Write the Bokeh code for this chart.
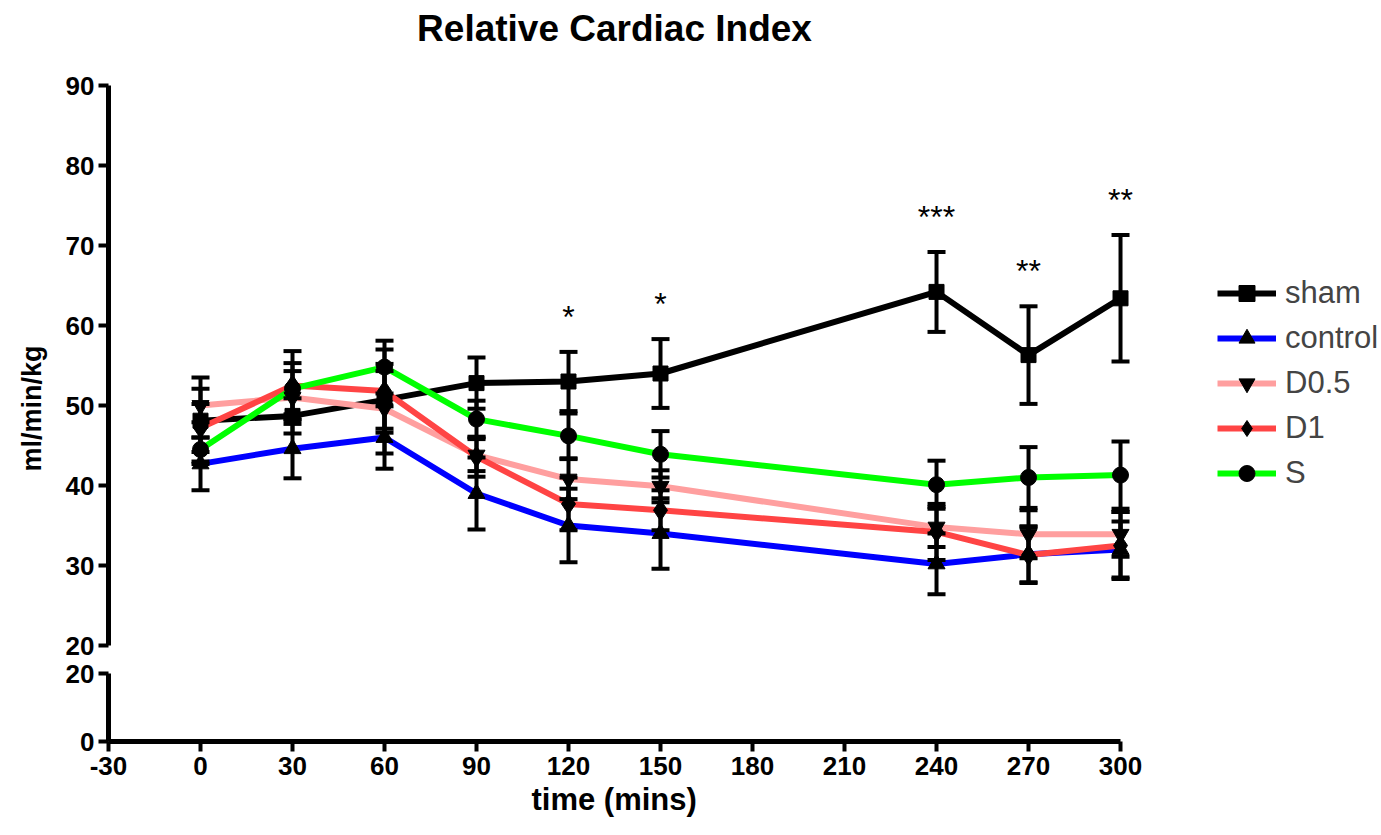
import math
from bokeh.plotting import figure
from bokeh.models import Range1d, FixedTicker, Legend, LegendItem, Title
from bokeh.layouts import column, row
from bokeh.embed import file_html
from bokeh.resources import INLINE
from bokeh.core.properties import value

# ---------------- data ----------------
times = [0, 30, 60, 90, 120, 150, 240, 270, 300]

sham = [48.1, 48.7, 50.7, 52.8, 53.0, 54.0, 64.2, 56.3, 63.4]
sham_err = [5.4, 2.2, 3.6, 3.2, 3.7, 4.3, 5.0, 6.1, 7.9]

control = [42.7, 44.6, 46.0, 39.0, 35.0, 34.0, 30.2, 31.4, 32.0]
control_err = [3.3, 3.7, 3.9, 4.5, 4.6, 4.4, 3.8, 3.5, 3.5]

d05 = [50.0, 51.0, 49.6, 43.8, 40.8, 39.9, 34.8, 33.9, 33.9]
d05_err = [2.1, 3.3, 5.6, 2.0, 2.5, 2.0, 2.5, 3.0, 2.8]

d1 = [47.2, 52.5, 51.8, 43.6, 37.7, 36.9, 34.2, 31.3, 32.5]
d1_err = [3.0, 4.3, 5.2, 2.5, 3.3, 2.5, 3.5, 3.5, 4.2]

s = [44.5, 52.1, 54.8, 48.3, 46.2, 43.9, 40.1, 41.0, 41.3]
s_err = [1.5, 3.2, 3.3, 2.3, 2.8, 2.9, 3.0, 3.8, 4.2]

series_names = ["sham", "control", "D0.5", "D1", "S"]

star_times = [120, 150, 240, 270, 300]
star_labels = ["*", "*", "***", "**", "**"]

x_ticks = [-30, 0, 30, 60, 90, 120, 150, 180, 210, 240, 270, 300]
y_ticks_upper = [20, 30, 40, 50, 60, 70, 80, 90]
y_ticks_lower = [0, 20]

title_text = "Relative Cardiac Index"
y_label_text = "ml/min/kg"
x_label_text = "time (mins)"

# ---------------- styles ----------------
FONT = "Liberation Sans"
series = [
    (sham, sham_err, "black", "square", 15),
    (control, control_err, "#0000FF", "triangle", 17),
    (d05, d05_err, "#FF9F9F", "inverted_triangle", 17),
    (d1, d1_err, "#FF4444", "diamond", 21),
    (s, s_err, "#00FF00", "circle", 16),
]

x_range = Range1d(-30, 385.1)

# upper segment; frame reaches the page top so the title sits inside it
p1 = figure(width=1321, height=659, x_range=x_range, y_range=Range1d(20, 100.625),
            output_backend="svg", toolbar_location=None,
            min_border_left=48, min_border_top=0, min_border_bottom=14, min_border_right=0)
p1.outline_line_color = None
p1.grid.visible = False
p1.xaxis.visible = False


def style_axis(ax, ticks, bounds):
    ax.ticker = FixedTicker(ticks=ticks)
    ax.bounds = bounds
    ax.axis_line_width = 5
    ax.axis_line_color = "black"
    ax.major_tick_line_width = 4
    ax.major_tick_line_color = "black"
    ax.major_tick_out = 10
    ax.major_tick_in = 0
    ax.minor_tick_line_color = None
    ax.major_label_text_font = FONT
    ax.major_label_text_font_style = "bold"
    ax.major_label_text_font_size = "26px"
    ax.major_label_text_color = "black"
    ax.major_label_standoff = 4


style_axis(p1.yaxis[0], y_ticks_upper, (20, 90))

# lines
line_renderers = []
for vals, err, col, mk, sz in series:
    r = p1.line(times, vals, line_color=col, line_width=6)
    line_renderers.append(r)

# error bars
for vals, err, col, mk, sz in series:
    up = [v + e for v, e in zip(vals, err)]
    lo = [v - e for v, e in zip(vals, err)]
    p1.segment(x0=times, y0=lo, x1=times, y1=up, line_color="black", line_width=4)
    p1.scatter(x=times + times, y=up + lo, marker="dash", size=18,
               line_color="black", line_width=4)

# markers
marker_renderers = []
for vals, err, col, mk, sz in series:
    r = p1.scatter(times, vals, marker=mk, size=sz,
                   fill_color="black", line_color="black")
    marker_renderers.append(r)

# significance stars above sham error bars
star_y = []
for t in star_times:
    i = times.index(t)
    star_y.append(sham[i] + sham_err[i] + 4.4)
p1.text(x=star_times, y=star_y, text=star_labels, text_align="center",
        text_baseline="middle", text_font=value(FONT), text_font_size="32px",
        text_color="black")

# chart title, centred over the x axis span
p1.text(x=[(x_ticks[0] + x_ticks[-1]) / 2], y=[97.1], text=[title_text],
        text_align="center", text_baseline="middle", text_font=value(FONT),
        text_font_style="bold", text_font_size="37px", text_color="black")

# legend
items = [LegendItem(label=n, renderers=[lr, mr])
         for n, lr, mr in zip(series_names, line_renderers, marker_renderers)]
legend = Legend(items=items, location=(1109, 152), orientation="vertical",
                glyph_width=59, glyph_height=40, label_height=40, spacing=5,
                padding=0, margin=0, label_standoff=9,
                label_text_font=FONT, label_text_font_size="31px",
                border_line_color=None, background_fill_alpha=0)
p1.add_layout(legend, "center")

# ---------------- lower segment ----------------
p2 = figure(width=1321, height=176, x_range=x_range, y_range=Range1d(0, 20),
            output_backend="svg", toolbar_location=None,
            min_border_left=48, min_border_top=14, min_border_bottom=94, min_border_right=0)
p2.outline_line_color = None
p2.grid.visible = False
style_axis(p2.yaxis[0], y_ticks_lower, (0, 20))

xa = p2.xaxis[0]
style_axis(xa, x_ticks, (-30, 300))
xa.major_label_standoff = 5
xa.major_label_overrides = {-30: "-30"}

p2.add_layout(Title(text=x_label_text, align="left", offset=423,
                    text_font=FONT, text_font_style="bold", text_font_size="31px",
                    text_color="black", standoff=4), "below")

# ---------------- y axis title strip ----------------
pl = figure(width=60, height=835, x_range=Range1d(0, 60), y_range=Range1d(835, 0),
            output_backend="svg", toolbar_location=None,
            x_axis_type=None, y_axis_type=None,
            min_border_left=0, min_border_right=0, min_border_top=0, min_border_bottom=0)
pl.outline_line_color = None
pl.grid.visible = False
pl.text(x=[31], y=[408], text=[y_label_text], angle=math.pi / 2,
        text_align="center", text_baseline="middle", text_font=value(FONT),
        text_font_style="bold", text_font_size="27px", text_color="black")

layout = row(pl, column(p1, p2, spacing=0), spacing=0)
open("out.html", "w").write(file_html(layout, INLINE))
